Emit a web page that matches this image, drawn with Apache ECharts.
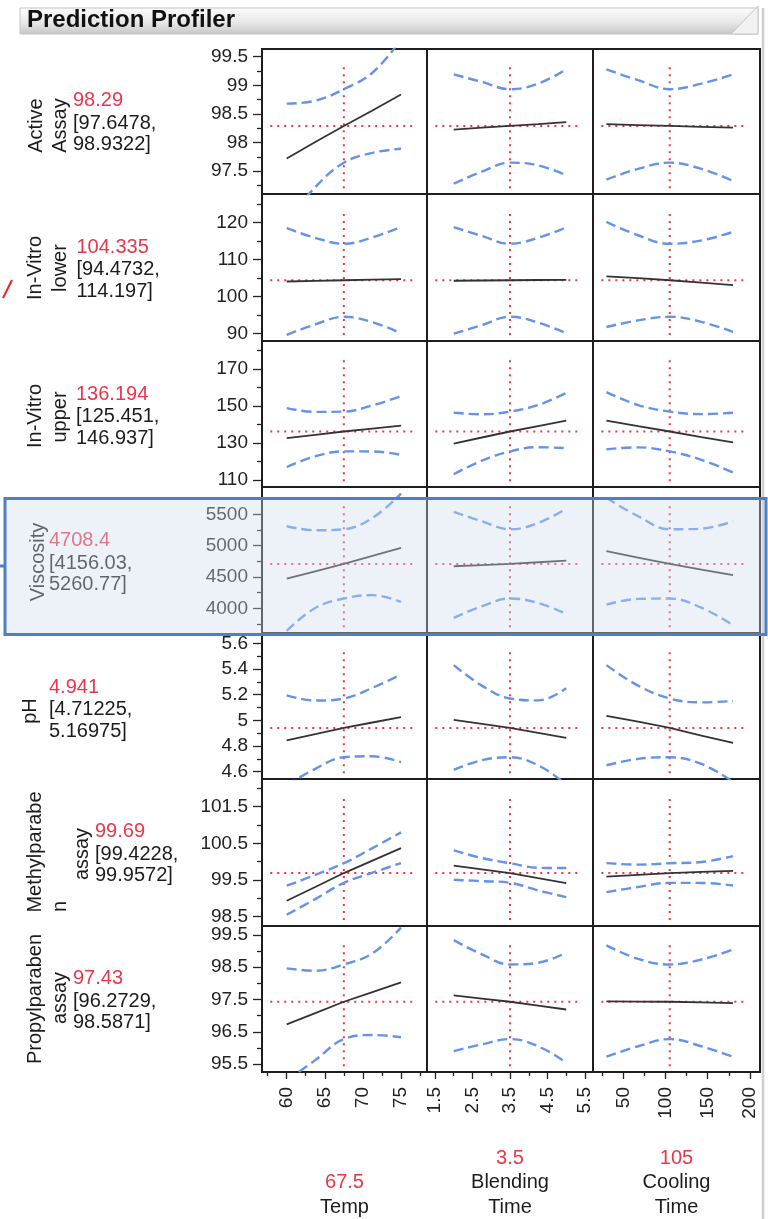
<!DOCTYPE html>
<html>
<head>
<meta charset="utf-8">
<script src="https://cdn.jsdelivr.net/npm/echarts@6/dist/echarts.min.js"></script>
<style>
  html, body { margin: 0; padding: 0; background: #ffffff; }
  #chart { width: 768px; height: 1219px; }
</style>
</head>
<body>
<div id="chart"></div>
<script>
// ---------- Factors ----------
const factorNames = [['Temp'], ['Blending', 'Time'], ['Cooling', 'Time']];
const factorCurrent = [67.5, 3.5, 105];
const factorSamples = [
  [60, 63.75, 67.5, 71.25, 75],
  [2, 2.75, 3.5, 4.25, 5],
  [30, 67.5, 105, 142.5, 180]
];
const xAxisMin = [56.76, 1.287, 14.1];
const xAxisMax = [78.41, 5.713, 211.9];
const xTickLabels = [[60, 65, 70, 75], [1.5, 2.5, 3.5, 4.5, 5.5], [50, 100, 150, 200]];
const xMinorTicks = [[57.5, 62.5, 67.5, 72.5, 77.5], [2, 3, 4, 5], [25, 75, 125, 175]];

// ---------- Responses ----------
const responseNames = [
  ['Active', 'Assay'], ['In-Vitro', 'lower'], ['In-Vitro', 'upper'], ['Viscosity'],
  ['pH'], ['Methylparabe', 'n', 'assay'], ['Propylparaben', 'assay']
];
const predicted = [98.29, 104.335, 136.194, 4708.4, 4.941, 99.69, 97.43];
const ciLower = [97.6478, 94.4732, 125.451, 4156.03, 4.71225, 99.4228, 96.2729];
const ciUpper = [98.9322, 114.197, 146.937, 5260.77, 5.16975, 99.9572, 98.5871];

const yAxisMin = [97.1, 87.92, 106.2, 3606, 4.543, 98.246, 95.252];
const yAxisMax = [99.635, 127.65, 185.1, 5936, 5.68, 102.255, 99.779];
const yTickLabels = [
  [97.5, 98, 98.5, 99, 99.5], [90, 100, 110, 120], [110, 130, 150, 170],
  [4000, 4500, 5000, 5500], [4.6, 4.8, 5, 5.2, 5.4, 5.6],
  [98.5, 99.5, 100.5, 101.5], [95.5, 96.5, 97.5, 98.5, 99.5]
];
const yMinorTicks = [
  [97.25, 97.75, 98.25, 98.75, 99.25], [95, 105, 115, 125], [120, 140, 160, 180],
  [3750, 4250, 4750, 5250, 5750], [4.7, 4.9, 5.1, 5.3, 5.5],
  [99, 100, 101, 102], [96, 97, 98, 99]
];

// ---------- Profile traces (one list per factor column) ----------
const activeAssayPred  = [[97.72, 98.01, 98.29, 98.56, 98.84], [98.225, 98.26, 98.29, 98.32, 98.355], [98.32, 98.305, 98.29, 98.275, 98.26]];
const activeAssayUpper = [[98.68, 98.73, 98.9322, 99.22, 99.80], [99.19, 99.06, 98.9322, 99.03, 99.28], [99.28, 99.09, 98.9322, 99.03, 99.19]];
const activeAssayLower = [[96.62, 97.22, 97.6478, 97.82, 97.89], [97.28, 97.49, 97.6478, 97.60, 97.43], [97.35, 97.54, 97.6478, 97.54, 97.33]];

const inVitroLowerPred  = [[104.0, 104.17, 104.335, 104.5, 104.65], [104.2, 104.27, 104.335, 104.4, 104.45], [105.4, 104.9, 104.335, 103.7, 103.0]];
const inVitroLowerUpper = [[118.4, 115.8, 114.197, 115.9, 118.7], [118.7, 116.3, 114.197, 115.8, 118.6], [120.1, 116.5, 114.197, 115.1, 117.4]];
const inVitroLowerLower = [[89.6, 92.4, 94.4732, 93.0, 90.0], [89.9, 92.2, 94.4732, 92.9, 90.0], [91.7, 93.5, 94.4732, 93.1, 90.4]];

const inVitroUpperPred  = [[132.6, 134.4, 136.194, 137.8, 139.4], [129.7, 132.95, 136.194, 139.15, 142.1], [142.1, 139.1, 136.194, 133.2, 130.3]];
const inVitroUpperUpper = [[148.8, 146.8, 146.937, 150.3, 155.3], [146.3, 145.5, 146.937, 150.5, 157.0], [157.5, 150.5, 146.937, 145.6, 146.3]];
const inVitroUpperLower = [[117.0, 122.8, 125.451, 125.4, 123.6], [113.1, 120.4, 125.451, 127.7, 127.2], [126.6, 127.6, 125.451, 120.9, 114.0]];

const viscosityPred  = [[4474, 4591, 4708.4, 4835, 4963], [4671, 4690, 4708.4, 4735, 4761], [4911, 4810, 4708.4, 4618, 4528]];
const viscosityUpper = [[5309, 5245, 5260.77, 5442, 5830], [5538, 5389, 5260.77, 5362, 5590], [5763, 5469, 5260.77, 5271, 5389]];
const viscosityLower = [[3640, 4006, 4156.03, 4210, 4102], [3847, 4033, 4156.03, 4086, 3911], [4059, 4150, 4156.03, 4010, 3730]];

const phPred  = [[4.844, 4.893, 4.941, 4.983, 5.024], [5.003, 4.972, 4.941, 4.902, 4.863], [5.034, 4.99, 4.941, 4.88, 4.824]];
const phUpper = [[5.195, 5.154, 5.16975, 5.253, 5.356], [5.43, 5.27, 5.16975, 5.155, 5.25], [5.43, 5.27, 5.16975, 5.14, 5.15]];
const phLower = [[4.493, 4.622, 4.71225, 4.72, 4.673], [4.614, 4.69, 4.71225, 4.65, 4.50], [4.65, 4.70, 4.71225, 4.66, 4.52]];

const methylPred  = [[98.935, 99.31, 99.69, 100.03, 100.37], [99.89, 99.79, 99.69, 99.55, 99.417], [99.59, 99.64, 99.69, 99.72, 99.75]];
const methylUpper = [[99.344, 99.64, 99.9572, 100.37, 100.80], [100.306, 100.10, 99.9572, 99.835, 99.826], [99.96, 99.92, 99.9572, 99.99, 100.154]];
const methylLower = [[98.553, 98.98, 99.4228, 99.70, 99.963], [99.507, 99.47, 99.4228, 99.216, 99.035], [99.17, 99.31, 99.4228, 99.42, 99.352]];

const propylPred  = [[96.73, 97.08, 97.43, 97.73, 98.03], [97.625, 97.53, 97.43, 97.31, 97.19], [97.44, 97.435, 97.43, 97.41, 97.39]];
const propylUpper = [[98.466, 98.39, 98.5871, 98.93, 99.73], [99.34, 98.90, 98.5871, 98.64, 98.95], [99.18, 98.76, 98.5871, 98.74, 99.05]];
const propylLower = [[94.99, 95.62, 96.2729, 96.40, 96.33], [95.90, 96.11, 96.2729, 96.05, 95.54], [95.725, 96.05, 96.2729, 96.05, 95.725]];

const traces = [
  [activeAssayPred, activeAssayUpper, activeAssayLower],
  [inVitroLowerPred, inVitroLowerUpper, inVitroLowerLower],
  [inVitroUpperPred, inVitroUpperUpper, inVitroUpperLower],
  [viscosityPred, viscosityUpper, viscosityLower],
  [phPred, phUpper, phLower],
  [methylPred, methylUpper, methylLower],
  [propylPred, propylUpper, propylLower]
];

// ---------- Layout ----------
const fontFamily = '"Liberation Sans", Arial, Helvetica, sans-serif';
const colLeft = [262, 427, 593];
const colRight = [427, 593, 760];
const rowEdges = [49, 194, 341, 487, 633, 779, 926, 1072];
const tickColor = '#222';
const redColor = '#e8374c';
const blueColor = '#6592ea';
const plain = (v) => String(v);

const grids = [], xAxes = [], yAxes = [], series = [];

function pairs(xs, ys) { return xs.map((x, i) => [x, ys[i]]); }

for (let r = 0; r < 7; r++) {
  for (let c = 0; c < 3; c++) {
    const gi = r * 3 + c;
    grids.push({
      left: colLeft[c], top: rowEdges[r],
      width: colRight[c] - colLeft[c], height: rowEdges[r + 1] - rowEdges[r],
      show: true, borderColor: '#1e1e1e', borderWidth: 2,
      backgroundColor: 'rgba(0,0,0,0)', containLabel: false, outerBoundsMode: 'none'
    });
    xAxes.push({
      type: 'value', gridIndex: gi, min: xAxisMin[c], max: xAxisMax[c],
      show: r === 6, position: 'bottom',
      axisLine: { show: false }, splitLine: { show: false },
      axisTick: { show: true, customValues: xTickLabels[c], length: 7, lineStyle: { color: tickColor, width: 1.3 } },
      axisLabel: { show: true, customValues: xTickLabels[c], formatter: plain, rotate: 90, margin: 15, fontSize: 19, color: '#222', fontFamily }
    });
    yAxes.push({
      type: 'value', gridIndex: gi, min: yAxisMin[r], max: yAxisMax[r],
      show: c === 0, position: 'left',
      axisLine: { show: false }, splitLine: { show: false },
      axisTick: { show: true, customValues: yTickLabels[r], length: 9, lineStyle: { color: tickColor, width: 1.3 } },
      axisLabel: { show: true, customValues: yTickLabels[r], formatter: plain, margin: 14, fontSize: 19, color: '#222', fontFamily }
    });
  }
}

// short minor ticks: extra axes sharing the edge panels
for (let c = 0; c < 3; c++) {
  const gi = 18 + c;
  xAxes.push({
    type: 'value', gridIndex: gi, min: xAxisMin[c], max: xAxisMax[c], position: 'bottom',
    axisLine: { show: false }, splitLine: { show: false }, axisLabel: { show: false },
    axisTick: { show: true, customValues: xMinorTicks[c], length: 4, lineStyle: { color: tickColor, width: 1.3 } }
  });
}
for (let r = 0; r < 7; r++) {
  const gi = r * 3;
  yAxes.push({
    type: 'value', gridIndex: gi, min: yAxisMin[r], max: yAxisMax[r], position: 'left', offset: 0,
    axisLine: { show: false }, splitLine: { show: false }, axisLabel: { show: false },
    axisTick: { show: true, customValues: yMinorTicks[r], length: 5, lineStyle: { color: tickColor, width: 1.3 } }
  });
}

for (let r = 0; r < 7; r++) {
  const [pred, upper, lower] = traces[r];
  for (let c = 0; c < 3; c++) {
    const gi = r * 3 + c;
    const xs = factorSamples[c];
    const xr = xAxisMax[c] - xAxisMin[c];
    const yr = yAxisMax[r] - yAxisMin[r];
    const base = { type: 'line', xAxisIndex: gi, yAxisIndex: gi, symbol: 'none', silent: true, animation: false, clip: true };
    // current-setting crosshair
    series.push(Object.assign({}, base, {
      data: [[xAxisMin[c] + 0.05 * xr, predicted[r]], [xAxisMin[c] + 0.91 * xr, predicted[r]]],
      lineStyle: { color: redColor, width: 2, type: [2, 5] }, z: 2
    }));
    series.push(Object.assign({}, base, {
      data: [[factorCurrent[c], yAxisMin[r] + 0.04 * yr], [factorCurrent[c], yAxisMin[r] + 0.875 * yr]],
      lineStyle: { color: redColor, width: 2, type: [2, 5] }, z: 2
    }));
    // confidence bands
    series.push(Object.assign({}, base, {
      data: pairs(xs, upper[c]), smooth: 0.4,
      lineStyle: { color: blueColor, width: 2.4, type: [10, 5] }, z: 3
    }));
    series.push(Object.assign({}, base, {
      data: pairs(xs, lower[c]), smooth: 0.4,
      lineStyle: { color: blueColor, width: 2.4, type: [10, 5] }, z: 3
    }));
    // prediction trace
    series.push(Object.assign({}, base, {
      data: pairs(xs, pred[c]),
      lineStyle: { color: '#333333', width: 1.8 }, z: 4
    }));
  }
}

// ---------- Text and decorations ----------
const elements = [];
function text(x, y, str, opts) {
  opts = opts || {};
  return {
    type: 'text', x, y, rotation: opts.rotation || 0, z: 20, silent: true,
    style: {
      text: str, fill: opts.fill || '#1c1c1c',
      font: (opts.weight ? opts.weight + ' ' : '') + (opts.size || 20) + 'px ' + fontFamily,
      align: opts.align || 'left', verticalAlign: 'middle'
    }
  };
}

// header bar
elements.push({
  type: 'rect', z: 5, silent: true,
  shape: { x: 20, y: 8, width: 738, height: 26 },
  style: {
    fill: new echarts.graphic.LinearGradient(0, 0, 0, 1, [
      { offset: 0, color: '#fdfdfd' }, { offset: 0.55, color: '#e8e8e8' }, { offset: 1, color: '#c6c6c6' }
    ]),
    stroke: '#c4c4c4', lineWidth: 1
  }
});
elements.push({
  type: 'polygon', z: 6, silent: true,
  shape: { points: [[731, 34], [758, 34], [758, 6]] },
  style: { fill: '#f2f2f2', stroke: '#c4c4c4', lineWidth: 1 }
});
elements.push(text(27, 20, 'Prediction Profiler', { size: 24, weight: 'bold', fill: '#111' }));
// window edge
elements.push({
  type: 'line', z: 5, silent: true,
  shape: { x1: 763, y1: 8, x2: 763, y2: 1219 },
  style: { stroke: '#cfcfcf', lineWidth: 2.5 }
});

// response labels
const nameLayout = [
  [[36.5, 125.5, 'center'], [60, 125.5, 'center']],
  [[35, 268, 'center'], [60, 268, 'center']],
  [[35, 416, 'center'], [60, 417, 'center']],
  [[38, 562, 'center']],
  [[30, 711, 'center']],
  [[35, 852, 'center'], [60, 912, 'left'], [82, 854, 'center']],
  [[35, 999, 'center'], [60, 998, 'center']]
];
const valueBlockX = [73, 76.5, 76, 49, 49, 95, 73];
const valueBlockY = [123, 269.5, 416.5, 563, 709.5, 854, 1001];
for (let r = 0; r < 7; r++) {
  responseNames[r].forEach((nm, i) => {
    const [x, y, align] = nameLayout[r][i];
    elements.push(text(x, y, nm, { rotation: Math.PI / 2, align, size: 20 }));
  });
  const bx = valueBlockX[r], by = valueBlockY[r];
  elements.push(text(bx, by - 22.5, String(predicted[r]), { fill: redColor }));
  elements.push(text(bx, by, '[' + ciLower[r] + ',', {}));
  elements.push(text(bx, by + 21.5, ciUpper[r] + ']', {}));
}

// factor labels under the columns
const colCenter = [344.5, 510, 676.5];
for (let c = 0; c < 3; c++) {
  const lines = factorNames[c];
  let y = 1207;
  for (let i = lines.length - 1; i >= 0; i--) {
    elements.push(text(colCenter[c], y, lines[i], { align: 'center' }));
    y -= 24.5;
  }
  elements.push(text(colCenter[c], y, String(factorCurrent[c]), { align: 'center', fill: redColor }));
}

// annotation marks at the left margin
elements.push({
  type: 'line', z: 20, silent: true,
  shape: { x1: 12, y1: 280, x2: 3, y2: 298 },
  style: { stroke: '#e8202a', lineWidth: 2 }
});
elements.push({
  type: 'line', z: 101, silent: true,
  shape: { x1: 0, y1: 566, x2: 6, y2: 566 },
  style: { stroke: '#4f7fbe', lineWidth: 3 }
});
// highlighted response row
elements.push({
  type: 'rect', z: 100, silent: true,
  shape: { x: 5, y: 498.5, width: 761, height: 136 },
  style: { fill: 'rgba(207,220,238,0.38)', stroke: '#4f7fbe', lineWidth: 3 }
});

const chart = echarts.init(document.getElementById('chart'), null, { renderer: 'canvas', width: 768, height: 1219 });
chart.setOption({
  backgroundColor: '#ffffff',
  animation: false,
  textStyle: { fontFamily },
  grid: grids,
  xAxis: xAxes,
  yAxis: yAxes,
  series: series,
  graphic: { elements }
});
</script>
</body>
</html>
